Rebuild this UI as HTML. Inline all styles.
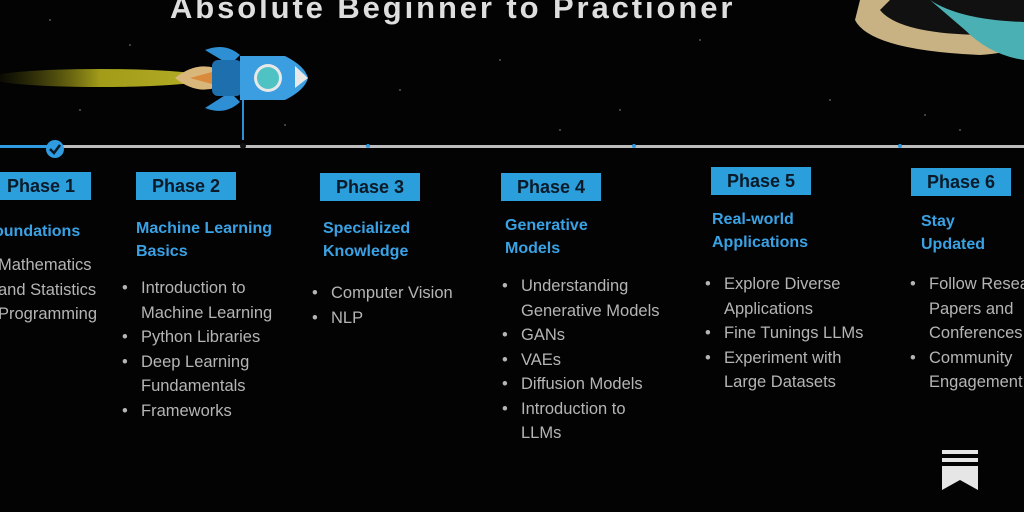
<!DOCTYPE html>
<html><head><meta charset="utf-8"><style>
body{margin:0;width:1024px;height:512px;overflow:hidden;background:#030303;font-family:"Liberation Sans",sans-serif;position:relative}
.a{position:absolute;white-space:nowrap}
.pb{position:absolute;background:#2b9fdc;color:#0a1a28;font-weight:bold;font-size:18px;height:28px;line-height:28px;text-align:center;width:100px}
.h{position:absolute;color:#3aa2e4;font-weight:bold;font-size:16px;line-height:23px;white-space:nowrap}
.l{position:absolute;color:#b5b5b5;font-size:16.5px;line-height:24.5px;white-space:nowrap}
.l div{position:relative}
.b::before{content:"•";position:absolute;left:-19px}
</style></head><body>
<div class="a" style="left:170px;top:-10px;font-size:31px;font-weight:bold;color:#dedede;letter-spacing:2.9px">Absolute Beginner to Practioner</div>
<svg class="a" style="left:0;top:0" width="1024" height="512">
<defs><linearGradient id="g" x1="0" x2="1"><stop offset="0" stop-color="#6a6a10" stop-opacity="0"/><stop offset="0.5" stop-color="#c9c21e"/><stop offset="1" stop-color="#e0d830"/></linearGradient></defs>
<ellipse cx="100" cy="78" rx="110" ry="9" fill="url(#g)" opacity="0.8"/>
<path d="M175 78 Q195 62 215 68 L215 88 Q195 94 175 78Z" fill="#d9b77a"/>
<path d="M190 78 L212 72 L212 84Z" fill="#d98a3a"/>
<path d="M205 50 Q225 42 240 55 L230 65Z M205 108 Q225 116 240 102 L230 92Z" fill="#2f8fd4"/>
<rect x="212" y="60" width="30" height="36" rx="6" fill="#1e6fae"/>
<path d="M240 56 L285 56 Q305 66 308 78 Q305 90 285 100 L240 100Z" fill="#3a9ee0"/>
<path d="M295 66 L308 78 L295 88Z" fill="#e8e8e8"/>
<circle cx="268" cy="78" r="14" fill="#e8e8e8"/><circle cx="268" cy="78" r="11" fill="#4fc2c4"/>
<rect x="242" y="100" width="2" height="40" fill="#2f8fd4"/>
<path d="M855 20 Q870 50 980 55 Q1024 52 1024 40 L1024 0 L860 0Z" fill="#c8b283"/>
<path d="M880 10 Q900 35 990 35 L1024 28 L1024 0 L890 0Z" fill="#111"/>
<path d="M930 0 Q960 20 1024 22 L1024 60 Q990 55 965 30Z" fill="#4ab0b3"/>
<rect x="0" y="145" width="1024" height="3" fill="#bdbdbd"/>
<rect x="0" y="145" width="55" height="3" fill="#2f9be0"/>
<circle cx="55" cy="149" r="9" fill="#2f9be0"/>
<path d="M50 149 L54 153 L60 145" stroke="#0a1a28" stroke-width="2.5" fill="none"/>
<circle cx="243" cy="146" r="3" fill="#111"/>
<circle cx="368" cy="146" r="2" fill="#2f9be0"/><circle cx="634" cy="146" r="2" fill="#2f9be0"/><circle cx="900" cy="146" r="2" fill="#2f9be0"/>
<g fill="#e6e6e6"><rect x="942" y="450" width="36" height="4"/><rect x="942" y="458" width="36" height="4"/><path d="M942 466 H978 V490 L960 480 L942 490Z"/></g>
<g fill="#555"><circle cx="50" cy="20" r="1"/><circle cx="130" cy="45" r="1"/><circle cx="400" cy="90" r="1"/><circle cx="500" cy="60" r="1"/><circle cx="620" cy="110" r="1"/><circle cx="700" cy="40" r="1"/><circle cx="830" cy="100" r="1"/><circle cx="925" cy="115" r="1"/><circle cx="960" cy="130" r="1"/><circle cx="80" cy="110" r="1"/><circle cx="285" cy="125" r="1"/><circle cx="560" cy="130" r="1"/></g>
</svg>
<div class="pb" style="left:-9px;top:172px">Phase 1</div>
<div class="pb" style="left:136px;top:172px">Phase 2</div>
<div class="pb" style="left:320px;top:173px">Phase 3</div>
<div class="pb" style="left:501px;top:173px">Phase 4</div>
<div class="pb" style="left:711px;top:167px">Phase 5</div>
<div class="pb" style="left:911px;top:168px">Phase 6</div>
<div class="h" style="left:-6px;top:220px">oundations</div>
<div class="h" style="left:136px;top:217px">Machine Learning<br>Basics</div>
<div class="h" style="left:323px;top:217px">Specialized<br>Knowledge</div>
<div class="h" style="left:505px;top:214px">Generative<br>Models</div>
<div class="h" style="left:712px;top:208px">Real-world<br>Applications</div>
<div class="h" style="left:921px;top:210px">Stay<br>Updated</div>
<div class="l" style="left:-2px;top:253px"><div>Mathematics</div><div>and Statistics</div><div>Programming</div></div>
<div class="l" style="left:141px;top:276px"><div class="b">Introduction to</div><div>Machine Learning</div><div class="b">Python Libraries</div><div class="b">Deep Learning</div><div>Fundamentals</div><div class="b">Frameworks</div></div>
<div class="l" style="left:331px;top:281px"><div class="b">Computer Vision</div><div class="b">NLP</div></div>
<div class="l" style="left:521px;top:274px"><div class="b">Understanding</div><div>Generative Models</div><div class="b">GANs</div><div class="b">VAEs</div><div class="b">Diffusion Models</div><div class="b">Introduction to</div><div>LLMs</div></div>
<div class="l" style="left:724px;top:272px"><div class="b">Explore Diverse</div><div>Applications</div><div class="b">Fine Tunings LLMs</div><div class="b">Experiment with</div><div>Large Datasets</div></div>
<div class="l" style="left:929px;top:272px"><div class="b">Follow Research</div><div>Papers and</div><div>Conferences</div><div class="b">Community</div><div>Engagement</div></div>
</body></html>
